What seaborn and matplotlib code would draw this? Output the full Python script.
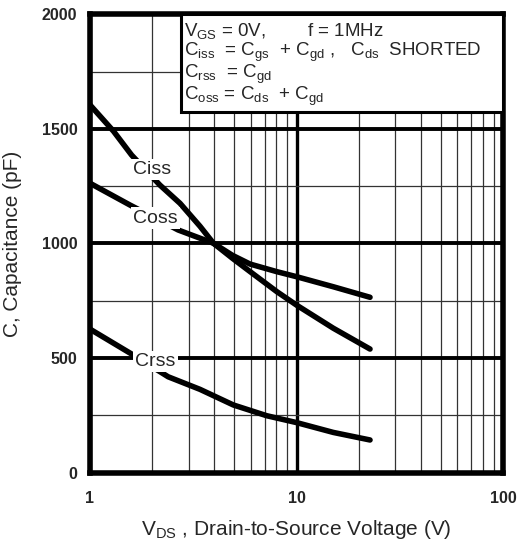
import matplotlib
matplotlib.use("Agg")
import matplotlib.pyplot as plt
import seaborn as sns
import pandas as pd
from matplotlib.patches import Rectangle
from matplotlib.ticker import FixedLocator, NullFormatter

# values
ciss_v = [1.0, 1.3, 1.59, 2.18, 2.73, 3.41, 3.96, 4.9, 5.96, 8.02, 10.0, 15.07, 22.7]
ciss_c = [1605, 1490, 1386, 1255, 1175, 1075, 1001, 935, 877, 790, 731, 630, 539]
coss_v = [1.0, 1.56, 2.67, 3.96, 4.9, 5.96, 8.02, 10.0, 15.07, 22.7]
coss_c = [1263, 1168, 1059, 1001, 948, 910, 877, 855, 811, 765]
crss_v = [1.0, 1.62, 2.39, 3.41, 4.94, 7.17, 10.0, 15.07, 22.7]
crss_c = [626, 513, 418, 363, 295, 248, 218, 175, 142]

y_ticks = [0, 500, 1000, 1500, 2000]
x_ticks = [1, 10, 100]
x_tick_labels = ["1", "10", "100"]

sns.set_style("white")
plt.rcParams["font.family"] = ["Liberation Sans", "DejaVu Sans"]
plt.rcParams["mathtext.fontset"] = "custom"
plt.rcParams["mathtext.rm"] = "Liberation Sans"
plt.rcParams["mathtext.it"] = "Liberation Sans"

fig = plt.figure(figsize=(5.19, 5.46), dpi=100)
ax = fig.add_axes([0.1734, 0.1346, 0.7958, 0.839])

curves = pd.concat([
    pd.DataFrame({"V": ciss_v, "C": ciss_c, "name": "Ciss"}),
    pd.DataFrame({"V": coss_v, "C": coss_c, "name": "Coss"}),
    pd.DataFrame({"V": crss_v, "C": crss_c, "name": "Crss"}),
])
sns.lineplot(data=curves, x="V", y="C", units="name", estimator=None,
             color="black", linewidth=4, legend=False, ax=ax, zorder=3)

ax.set_xscale("log")
ax.set_xlim(1, 100)
ax.set_ylim(0, 2000)

# grid: thick majors, thin minors
ax.set_yticks(y_ticks)
ax.yaxis.set_minor_locator(FixedLocator([250, 750, 1250, 1750]))
ax.xaxis.set_major_locator(FixedLocator(x_ticks))
ax.xaxis.set_minor_locator(FixedLocator([2, 3, 4, 5, 6, 7, 8, 9,
                                          20, 30, 40, 50, 60, 70, 80, 90]))
ax.xaxis.set_minor_formatter(NullFormatter())
ax.set_xticklabels(x_tick_labels)
ax.grid(which="major", axis="y", color="black", linewidth=2.8)
ax.grid(which="major", axis="x", color="black", linewidth=2.4)
ax.grid(which="minor", color="#333333", linewidth=0.9)
ax.set_axisbelow(True)
ax.tick_params(which="both", length=0)
ax.tick_params(axis="y", pad=9)
ax.tick_params(axis="x", pad=13)
for lab in ax.get_xticklabels() + ax.get_yticklabels():
    lab.set_fontweight("bold")
    lab.set_fontsize(11.5)

for sp in ax.spines.values():
    sp.set_visible(True)
    sp.set_color("black")
    sp.set_linewidth(4)

ax.set_xlabel(r"V$_{\mathrm{DS}}$ , Drain-to-Source Voltage (V)", fontsize=15, labelpad=9)
ax.set_ylabel("C, Capacitance (pF)", fontsize=15, labelpad=14)

# curve labels with white background
lbl = dict(fontsize=14, ha="center", va="center", zorder=5,
           bbox=dict(facecolor="white", edgecolor="none", pad=1.5))
ax.text(2.0, 1323, "Ciss", **lbl)
ax.text(2.07, 1111, "Coss", **lbl)
ax.text(2.07, 484, "Crss", **lbl)

# condition box
ax.add_patch(Rectangle((0.220, 0.788), 0.78, 0.212, transform=ax.transAxes,
                       facecolor="white", edgecolor="black", linewidth=2.2, zorder=6))
box_lines = [
    r"V$_{\mathrm{GS}}$ = 0V,        f = 1MHz",
    r"C$_{\mathrm{iss}}$  = C$_{\mathrm{gs}}$  + C$_{\mathrm{gd}}$ ,   C$_{\mathrm{ds}}$  SHORTED",
    r"C$_{\mathrm{rss}}$  = C$_{\mathrm{gd}}$",
    r"C$_{\mathrm{oss}}$ = C$_{\mathrm{ds}}$  + C$_{\mathrm{gd}}$",
]
box_y = [0.964, 0.918, 0.869, 0.820]
for s, yy in zip(box_lines, box_y):
    ax.text(0.228, yy, s, transform=ax.transAxes, fontsize=13.5,
            ha="left", va="center", zorder=7)

fig.savefig("out.png", dpi=100)
